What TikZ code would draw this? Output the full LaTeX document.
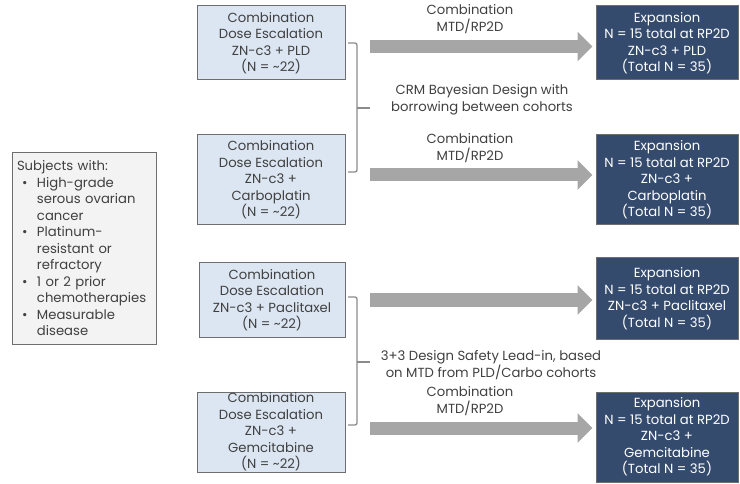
\documentclass[tikz,border=0pt]{standalone}
\usepackage{fontspec}
\setmainfont{Poppins}
\usetikzlibrary{arrows.meta}
\definecolor{lblue}{RGB}{220,230,242}
\definecolor{dblue}{RGB}{52,75,110}
\definecolor{bord}{RGB}{110,110,110}
\definecolor{arr}{RGB}{166,166,166}
\definecolor{txt}{RGB}{64,64,64}
\definecolor{sfill}{RGB}{243,243,243}
\newcommand\bl{\makebox[20pt][l]{\hspace{5pt}\textbullet}}
\newcommand\ind{\hspace*{20pt}}
\begin{document}
\begin{tikzpicture}[x=1pt,y=-1pt,
  every node/.style={font=\fontsize{13.2}{16.5}\selectfont, text=txt},
  lbox/.style={draw=bord, line width=1pt, fill=lblue, align=center, minimum width=148pt, inner sep=0pt},
  dbox/.style={draw=bord, line width=1pt, fill=dblue, align=center, minimum width=142pt, inner sep=0pt, text=white},
  lab/.style={align=center, inner sep=0pt},
  fat/.style={draw=arr, line width=13pt, -{Triangle[length=15pt,width=29pt]}},
  brk/.style={draw=bord!80, line width=1.3pt, rounded corners=2pt}]
\useasboundingbox (0,0) rectangle (740,484);
% subjects box
\node[draw=bord, line width=1pt, fill=sfill, minimum width=144pt, minimum height=191pt, text width=134pt, inner sep=5pt, align=left] (subj) at (84,248.5)
 {Subjects with:\\ \bl High-grade\\ \ind serous ovarian\\ \ind cancer\\ \bl Platinum-\\ \ind resistant or\\ \ind refractory\\ \bl 1 or 2 prior\\ \ind chemotherapies\\ \bl Measurable\\ \ind disease};
% light boxes
\node[lbox, minimum height=74pt] (b1) at (271,43) {Combination\\Dose Escalation\\ZN-c3 + PLD\\(N = \textasciitilde22)};
\node[lbox, minimum height=90pt] (b2) at (271,180) {Combination\\Dose Escalation\\ZN-c3 +\\Carboplatin\\(N = \textasciitilde22)};
\node[lbox, minimum height=74pt, minimum width=146pt] (b3) at (272,300) {Combination\\Dose Escalation\\ZN-c3 + Paclitaxel\\(N = \textasciitilde22)};
\node[lbox, minimum height=80pt] (b4) at (271,432) {Combination\\Dose Escalation\\ZN-c3 +\\Gemcitabine\\(N = \textasciitilde22)};
% dark boxes
\node[dbox, minimum height=74pt] (d1) at (667,43) {Expansion\\N = 15 total at RP2D\\ZN-c3 + PLD\\(Total N = 35)};
\node[dbox, minimum height=90pt] (d2) at (667,180) {Expansion\\N = 15 total at RP2D\\ZN-c3 +\\Carboplatin\\(Total N = 35)};
\node[dbox, minimum height=81pt] (d3) at (667,298.5) {Expansion\\N = 15 total at RP2D\\ZN-c3 + Paclitaxel\\(Total N = 35)};
\node[dbox, minimum height=90pt] (d4) at (667,437) {Expansion\\N = 15 total at RP2D\\ZN-c3 +\\Gemcitabine\\(Total N = 35)};
% brackets
\coordinate (k1t) at (348,43); \coordinate (k1b) at (348,172); \coordinate (k1m) at (370,108);
\coordinate (k2t) at (348,297); \coordinate (k2b) at (348,425); \coordinate (k2m) at (370,362);
\draw[brk] (k1t) -- (357,43) -- (357,172) -- (k1b);
\draw[brk] (357,108) -- (k1m);
\draw[brk] (k2t) -- (357,297) -- (357,425) -- (k2b);
\draw[brk] (357,362) -- (k2m);
% arrows
\coordinate (a1) at (370,46.5); \coordinate (a2) at (370,175);
\coordinate (a3) at (370,300); \coordinate (a4) at (370,428);
\draw[fat] (a1) -- ([xshift=-3pt]a1 -| d1.west);
\draw[fat] (a2) -- ([xshift=-3pt]a2 -| d2.west);
\draw[fat] (a3) -- ([xshift=-3pt]a3 -| d3.west);
\draw[fat] (a4) -- ([xshift=-3pt]a4 -| d4.west);
% labels
\node[lab] (l1) at (470,19) {Combination\\MTD/RP2D};
\node[lab] (l2) at (482,100) {CRM Bayesian Design with\\borrowing between cohorts};
\node[lab] (l3) at (470,148) {Combination\\MTD/RP2D};
\node[lab] (l4) at (491,365) {3+3 Design Safety Lead-in, based\\on MTD from PLD/Carbo cohorts};
\node[lab] (l5) at (470,401) {Combination\\MTD/RP2D};
\end{tikzpicture}
\end{document}
